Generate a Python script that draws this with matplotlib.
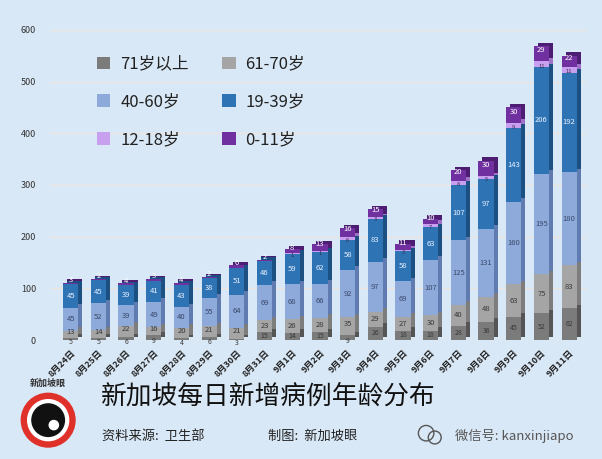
import matplotlib
matplotlib.use("Agg")
import matplotlib.pyplot as plt
import matplotlib.transforms as mtransforms
from matplotlib.patches import Circle
import numpy as np

plt.rcParams['font.family'] = ['Noto Sans CJK SC', 'DejaVu Sans']

dates = ["8月24日", "8月25日", "8月26日", "8月27日", "8月28日", "8月29日", "8月30日",
         "8月31日", "9月1日", "9月2日", "9月3日", "9月4日", "9月5日", "9月6日",
         "9月7日", "9月8日", "9月9日", "9月10日", "9月11日"]
age_71_plus = [5, 5, 6, 9, 4, 6, 3, 15, 14, 15, 9, 26, 18, 18, 28, 36, 45, 52, 62]
age_61_70 = [13, 14, 22, 16, 20, 21, 21, 23, 26, 28, 35, 29, 27, 30, 40, 48, 63, 75, 83]
age_40_60 = [45, 52, 39, 49, 40, 55, 64, 69, 68, 66, 92, 97, 69, 107, 125, 131, 160, 195, 180]
age_19_39 = [45, 45, 39, 41, 43, 38, 51, 46, 59, 62, 58, 83, 58, 63, 107, 97, 143, 206, 192]
age_12_18 = [0, 0, 0, 0, 0, 0, 0, 0, 1, 1, 6, 3, 3, 7, 8, 5, 9, 11, 11]
age_0_11 = [3, 2, 4, 3, 4, 2, 6, 2, 8, 13, 16, 15, 11, 10, 20, 30, 30, 29, 22]

series_names = ["71岁以上", "61-70岁", "40-60岁", "19-39岁", "12-18岁", "0-11岁"]
series = [age_71_plus, age_61_70, age_40_60, age_19_39, age_12_18, age_0_11]
front_colors = ["#7b7b7b", "#a5a5a5", "#8eaadb", "#2e74b5", "#c9a0f0", "#7030a0"]
side_colors = ["#555555", "#7d7d7d", "#5f7bb0", "#1c4f82", "#9d72c7", "#4c1d72"]
label_colors = ["#3a3a3a", "#3a3a3a", "#3a4a6a", "#e8f0ff", "#3a2a50", "#ffffff"]
label_sizes = [5.0, 5.5, 5.5, 5.5, 4.2, 5.5]

fig = plt.figure(figsize=(6.02, 4.59), dpi=100)
fig.patch.set_facecolor("#d9e8f6")
ax = fig.add_axes([0.083, 0.259, 0.89, 0.676])
ax.set_facecolor("none")

x = np.arange(len(dates))
w = 0.55
back_tr = mtransforms.offset_copy(ax.transData, fig=fig, x=4, y=3.5, units='dots')

bottoms = np.zeros(len(dates))
for vals, sc in zip(series, side_colors):
    v = np.array(vals, dtype=float)
    ax.bar(x, v, w, bottom=bottoms, color=sc, transform=back_tr, zorder=2, linewidth=0)
    bottoms += v

bottoms = np.zeros(len(dates))
handles = []
for si, (name, vals, fc, lc, ls) in enumerate(zip(series_names, series, front_colors,
                                                   label_colors, label_sizes)):
    v = np.array(vals, dtype=float)
    b = ax.bar(x, v, w, bottom=bottoms, color=fc, zorder=3, linewidth=0, label=name)
    handles.append(b)
    for i, (xi, vi, bi) in enumerate(zip(x, v, bottoms)):
        if vi <= 0:
            continue
        dy = 0
        if si == 0 and vi < 10:
            dy = -2.5
        elif si == 1 and age_71_plus[i] < 10:
            dy = 1.5
        elif si == 4:
            dy = -1.5
        elif si == 5:
            dy = 2.5
        ax.annotate(f"{int(vi)}", (xi, bi + vi / 2), xytext=(0, dy),
                    textcoords='offset points', ha='center', va='center',
                    fontsize=ls, color=lc, zorder=5)
    bottoms += v

ax.set_ylim(0, 600)
ax.set_xlim(-0.75, 18.6)
ax.set_yticks(range(0, 601, 100))
ax.tick_params(axis='y', length=0, labelsize=6.5, colors="#333333", pad=10)
ax.set_xticks(x)
ax.set_xticklabels(dates, rotation=45, ha='right', rotation_mode='anchor',
                   fontsize=6.5, fontweight='bold', color="#222222")
ax.tick_params(axis='x', length=0, pad=6)
for s in ax.spines.values():
    s.set_visible(False)
ax.yaxis.grid(True, color="#ebe6e0", linewidth=1.0, zorder=0)
ax.set_axisbelow(True)

order = [0, 2, 4, 1, 3, 5]
leg = ax.legend([handles[i] for i in order], [series_names[i] for i in order],
                ncol=2, loc='upper left', bbox_to_anchor=(0.06, 0.965), frameon=False,
                fontsize=12, handlelength=0.8, handleheight=0.8,
                columnspacing=2.0, labelspacing=1.25, handletextpad=0.6)
for t in leg.get_texts():
    t.set_color("#222222")

fig.text(0.167, 0.135, "新加坡每日新增病例年龄分布", fontsize=18.5, color="#111111",
         va='center', ha='left')
fig.text(0.17, 0.05, "资料来源:  卫生部", fontsize=9.5, color="#222222", va='center')
fig.text(0.445, 0.05, "制图:  新加坡眼", fontsize=9.5, color="#222222", va='center')
fig.text(0.755, 0.05, "微信号: kanxinjiapo", fontsize=9.5, color="#555555", va='center')

# Logo
lax = fig.add_axes([0.01, 0.0, 0.14, 0.2])
lax.set_xlim(0, 1)
lax.set_ylim(0, 1.3)
lax.set_aspect('equal')
lax.axis('off')
lax.add_patch(Circle((0.5, 0.55), 0.38, color="#e0302a"))
lax.add_patch(Circle((0.5, 0.55), 0.29, color="#ffffff"))
lax.add_patch(Circle((0.5, 0.55), 0.23, color="#111111"))
lax.add_patch(Circle((0.58, 0.48), 0.065, color="#ffffff"))
lax.text(0.5, 1.08, "新加坡眼", fontsize=6.5, ha='center', va='center',
         color="#333333", fontweight='bold')

# WeChat icon
wax = fig.add_axes([0.69, 0.02, 0.05, 0.065])
wax.set_xlim(0, 1.4)
wax.set_ylim(0, 1)
wax.set_aspect('equal')
wax.axis('off')
wax.add_patch(Circle((0.5, 0.58), 0.36, fill=False, ec="#555555", lw=1))
wax.add_patch(Circle((0.9, 0.38), 0.3, fill=False, ec="#555555", lw=1))

fig.savefig("out.png", dpi=100, facecolor=fig.get_facecolor())
